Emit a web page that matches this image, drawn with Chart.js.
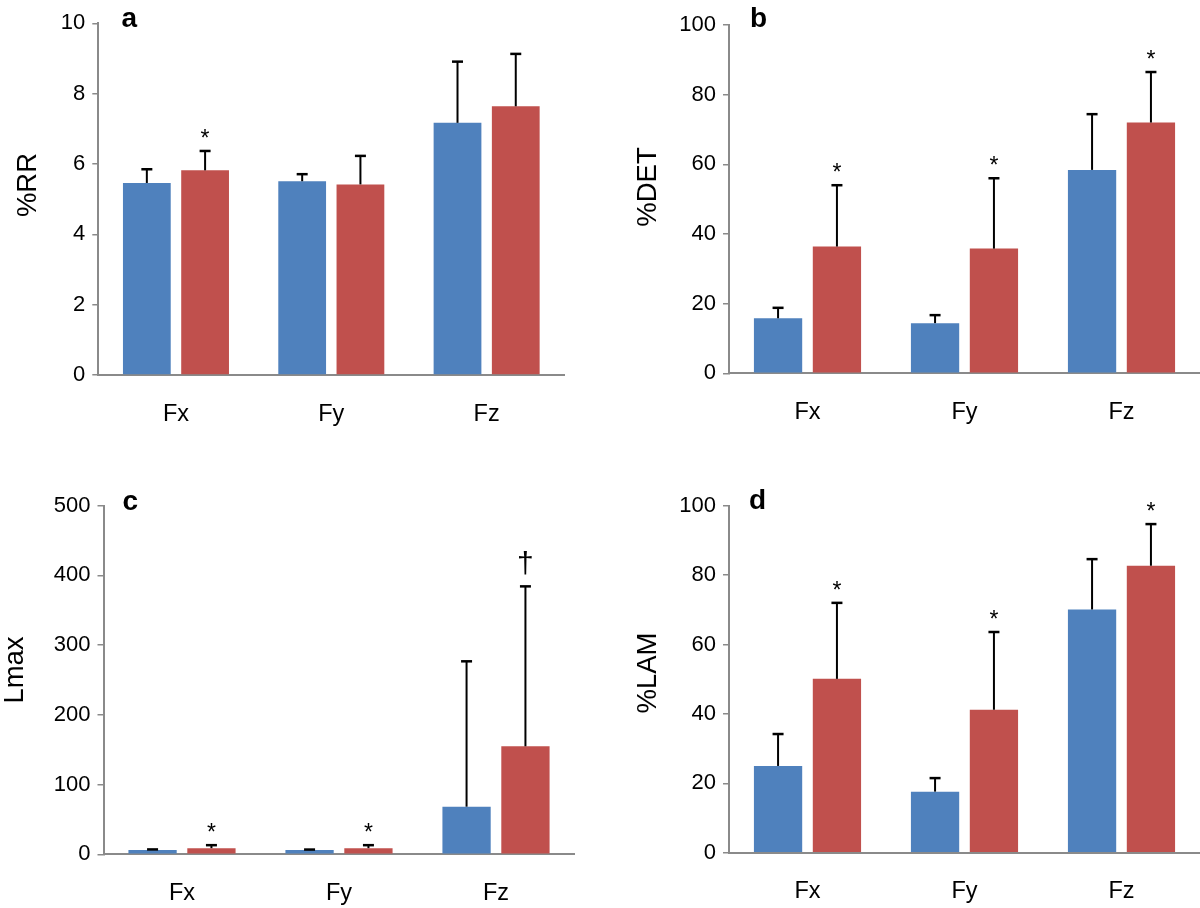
<!DOCTYPE html>
<html>
<head>
<meta charset="utf-8">
<script src="https://cdn.jsdelivr.net/npm/chart.js@4"></script>
<style>
  html, body { margin: 0; padding: 0; background: #fff; }
  #wrap { position: relative; width: 1200px; height: 908px; overflow: hidden; }
  canvas { position: absolute; }
</style>
</head>
<body>
<div id="wrap">
  <canvas id="ca" width="600" height="454" style="left:0;top:0"></canvas>
  <canvas id="cb" width="600" height="454" style="left:600px;top:0"></canvas>
  <canvas id="cc" width="600" height="454" style="left:0;top:454px"></canvas>
  <canvas id="cd" width="600" height="454" style="left:600px;top:454px"></canvas>
</div>
<script>
// ---------- data ----------
const categories = ['Fx', 'Fy', 'Fz'];

// panel a: %RR
const rrBlue   = [5.46, 5.51, 7.17];
const rrBlueSD = [0.39, 0.20, 1.74];
const rrRed    = [5.82, 5.42, 7.64];
const rrRedSD  = [0.55, 0.81, 1.49];
const rrMarks  = ['*', '', ''];
const rrTicks  = { max: 10, step: 2 };

// panel b: %DET
const detBlue   = [15.8, 14.4, 58.4];
const detBlueSD = [3.0, 2.3, 16.0];
const detRed    = [36.4, 35.8, 72.0];
const detRedSD  = [17.6, 20.2, 14.5];
const detMarks  = ['*', '*', '*'];
const detTicks  = { max: 100, step: 20 };

// panel c: Lmax
const lmaxBlue   = [6.2, 6.0, 68.3];
const lmaxBlueSD = [0.8, 0.8, 208.5];
const lmaxRed    = [8.8, 8.8, 154.9];
const lmaxRedSD  = [4.3, 4.3, 229.4];
const lmaxMarks  = ['*', '*', '†'];
const lmaxTicks  = { max: 500, step: 100 };

// panel d: %LAM
const lamBlue   = [25.0, 17.6, 70.1];
const lamBlueSD = [9.2, 3.9, 14.5];
const lamRed    = [50.1, 41.2, 82.7];
const lamRedSD  = [21.9, 22.4, 12.0];
const lamMarks  = ['*', '*', '*'];
const lamTicks  = { max: 100, step: 20 };

// ---------- styling ----------
const FONT = '"Liberation Sans", Arial, Helvetica, sans-serif';
const BLUE = '#4F81BD';
const RED = '#C0504D';
const AXIS = '#8a8a8a';

const annotPlugin = {
  id: 'annot',
  afterDatasetsDraw(chart, args, opts) {
    const ctx = chart.ctx;
    const ys = chart.scales.y;
    chart.data.datasets.forEach((ds, di) => {
      const meta = chart.getDatasetMeta(di);
      meta.data.forEach((bar, i) => {
        const top = ys.getPixelForValue(ds.data[i] + opts.sd[di][i]);
        ctx.save();
        ctx.strokeStyle = '#000';
        ctx.lineWidth = 2;
        ctx.beginPath();
        ctx.moveTo(bar.x, bar.y);
        ctx.lineTo(bar.x, top);
        ctx.stroke();
        ctx.lineWidth = 2.5;
        ctx.beginPath();
        ctx.moveTo(bar.x - 5.5, top);
        ctx.lineTo(bar.x + 5.5, top);
        ctx.stroke();
        const m = di === 1 ? opts.marks[i] : '';
        if (m) {
          ctx.fillStyle = '#000';
          ctx.textAlign = 'center';
          ctx.textBaseline = 'alphabetic';
          if (m === '*') {
            ctx.font = '23px ' + FONT;
            ctx.fillText(m, bar.x, top - 5);
          } else {
            ctx.font = '30px ' + FONT;
            ctx.fillText(m, bar.x, top - 13);
          }
        }
        ctx.restore();
      });
    });
  },
  afterDraw(chart, args, opts) {
    const ctx = chart.ctx;
    ctx.save();
    ctx.fillStyle = '#000';
    ctx.font = 'bold 28px ' + FONT;
    ctx.textAlign = 'left';
    ctx.textBaseline = 'alphabetic';
    ctx.fillText(opts.letter, opts.letterX, opts.letterY);
    ctx.translate(opts.titleX, opts.titleY);
    ctx.rotate(-Math.PI / 2);
    ctx.font = '27.5px ' + FONT;
    ctx.textAlign = 'center';
    ctx.textBaseline = 'middle';
    ctx.fillText(opts.title, 0, 0);
    ctx.restore();
  }
};

function makePanel(id, blue, blueSD, red, redSD, marks, ticks, title, letter, geo) {
  return new Chart(document.getElementById(id), {
    type: 'bar',
    data: {
      labels: categories,
      datasets: [
        { data: blue, backgroundColor: BLUE, borderWidth: 0 },
        { data: red, backgroundColor: RED, borderWidth: 0 }
      ]
    },
    options: {
      responsive: false,
      animation: false,
      devicePixelRatio: 1,
      barPercentage: 0.82,
      categoryPercentage: 0.75,
      layout: { padding: { left: 0, right: geo.padRight, top: geo.padTop, bottom: 0 } },
      plugins: {
        legend: { display: false },
        tooltip: { enabled: false },
        annot: {
          sd: [blueSD, redSD], marks: marks,
          title: title, titleX: geo.titleX, titleY: geo.titleY,
          letter: letter, letterX: geo.letterX, letterY: geo.letterY
        }
      },
      scales: {
        x: {
          grid: { display: false, drawTicks: false },
          border: { display: true, color: AXIS, width: 2 },
          ticks: { color: '#000', font: { family: FONT, size: 23.5 }, padding: 25 },
          afterFit: (s) => { s.height = geo.xHeight; }
        },
        y: {
          min: 0, max: ticks.max,
          ticks: { stepSize: ticks.step, color: '#000', font: { family: FONT, size: 22 }, padding: 7 },
          grid: { display: true, drawOnChartArea: false, drawTicks: true, tickLength: 6, color: AXIS, lineWidth: 1.5 },
          border: { display: true, color: AXIS, width: 2 },
          afterFit: (s) => { s.width = geo.yWidth; }
        }
      }
    },
    plugins: [annotPlugin]
  });
}

makePanel('ca', rrBlue, rrBlueSD, rrRed, rrRedSD, rrMarks, rrTicks, '%RR', 'a',
  { yWidth: 98.3, padRight: 35.7, padTop: 23.3, xHeight: 79, titleX: 28, titleY: 185, letterX: 121.5, letterY: 27 });
makePanel('cb', detBlue, detBlueSD, detRed, detRedSD, detMarks, detTicks, '%DET', 'b',
  { yWidth: 129, padRight: 0, padTop: 25, xHeight: 80.7, titleX: 48, titleY: 187, letterX: 150, letterY: 27 });
makePanel('cc', lmaxBlue, lmaxBlueSD, lmaxRed, lmaxRedSD, lmaxMarks, lmaxTicks, 'Lmax', 'c',
  { yWidth: 103.5, padRight: 25.5, padTop: 51.7, xHeight: 53.7, titleX: 15.5, titleY: 216, letterX: 122.5, letterY: 55.5 });
makePanel('cd', lamBlue, lamBlueSD, lamRed, lamRedSD, lamMarks, lamTicks, '%LAM', 'd',
  { yWidth: 129, padRight: 0, padTop: 51.7, xHeight: 55.3, titleX: 48, titleY: 219, letterX: 149, letterY: 55 });
</script>
</body>
</html>
